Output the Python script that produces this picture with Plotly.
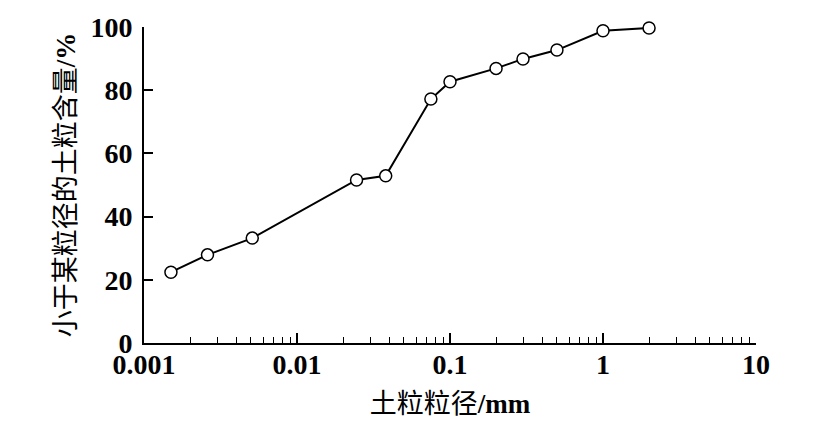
import plotly.graph_objects as go

diameter_mm = [0.0015, 0.0026, 0.0051, 0.0245, 0.038, 0.075, 0.1, 0.2, 0.3, 0.5, 1.0, 2.0]
percent_finer = [22.4, 27.9, 33.2, 51.6, 52.9, 77.2, 82.7, 86.9, 89.9, 92.7, 98.8, 99.7]

x_tickvals = [0.001, 0.01, 0.1, 1, 10]
x_ticktext = ["0.001", "0.01", "0.1", "1", "10"]
y_tickvals = [0, 20, 40, 60, 80, 100]

minor_vals = [m * 10 ** e for e in range(-3, 1) for m in range(2, 10)]

num_font = dict(family="Liberation Serif", size=28, color="black", weight="bold")
title_font = dict(family="Liberation Serif, Noto Sans CJK SC", size=27, color="black")

fig = go.Figure()
fig.add_trace(go.Scatter(
    x=diameter_mm, y=percent_finer, mode="lines+markers",
    line=dict(color="black", width=2),
    marker=dict(symbol="circle", size=12, color="white", line=dict(color="black", width=1.5)),
    cliponaxis=False, showlegend=False,
))

fig.update_layout(
    width=826, height=427,
    margin=dict(l=136, r=78, t=19, b=92),
    paper_bgcolor="white", plot_bgcolor="white",
)
fig.update_xaxes(
    type="log", range=[-3, 1], automargin=False,
    tickvals=x_tickvals, ticktext=x_ticktext,
    ticks="inside", ticklen=10, tickwidth=1.5, tickcolor="black",
    minor=dict(tickvals=minor_vals, ticks="inside", ticklen=6, tickwidth=1.2, tickcolor="black"),
    showline=True, linecolor="black", linewidth=2,
    showgrid=False, zeroline=False,
    tickfont=num_font, ticklabelstandoff=-5,
    title=dict(text="土粒粒径<b>/mm</b>", font=title_font, standoff=16),
)
fig.update_yaxes(
    range=[0, 100], tickvals=y_tickvals, automargin=False,
    ticks="inside", ticklen=9, tickwidth=1.5, tickcolor="black",
    showline=True, linecolor="black", linewidth=2,
    showgrid=False, zeroline=False,
    tickfont=num_font, ticklabelstandoff=4,
    title=dict(text="小于某粒径的土粒含量<b>/%</b>", font=title_font, standoff=7),
)

fig.write_html("out.html")
